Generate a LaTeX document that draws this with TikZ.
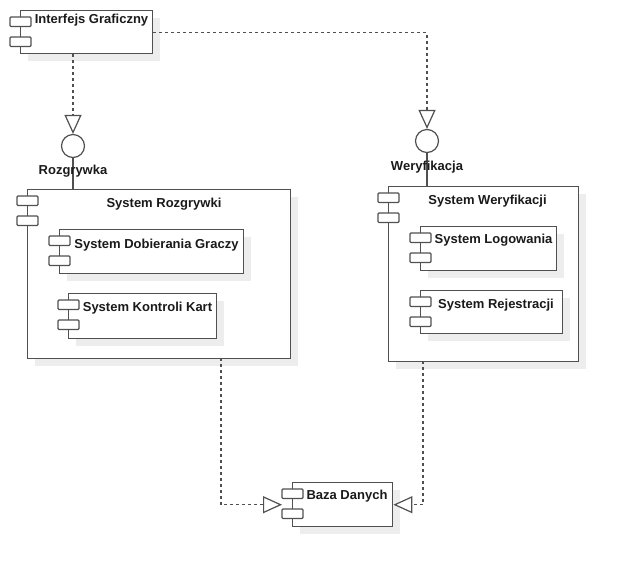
\documentclass[tikz,border=0pt]{standalone}
\usepackage{fontspec}
\setmainfont{Liberation Sans}
\usetikzlibrary{arrows.meta,shadows}

\definecolor{edge}{HTML}{505050}
\definecolor{ink}{HTML}{1A1A1A}
\definecolor{shade}{HTML}{EDEDED}

\tikzset{
  x=1pt, y=-1pt,
  box/.style={rectangle, draw=edge, line width=1.4pt, fill=white, inner sep=0pt,
    anchor=north west,
    drop shadow={shadow xshift=7pt, shadow yshift=-7pt, fill=shade, opacity=1}},
  tab/.style={draw=edge, line width=1.3pt, fill=white, rounded corners=1pt},
  title/.style={font=\bfseries\fontsize{13}{15}\selectfont, text=ink,
    inner sep=0pt, anchor=base},
  dep/.style={draw=edge, line width=1.4pt, dash pattern=on 3pt off 3pt,
    -{Triangle[open, fill=white, length=19pt, width=17pt, line width=1.2pt]}},
  iface/.style={circle, draw=edge, line width=1.2pt, fill=white,
    minimum size=23pt, inner sep=0pt},
  link/.style={draw=edge, line width=1.4pt},
}

% UML component: name, left, top, right, bottom
\newcommand\umlcomp[5]{%
  \node[box, minimum width={(#4-#2)*1pt}, minimum height={(#5-#3)*1pt}] (#1) at (#2,#3) {};
  \draw[tab] ([xshift=-10pt, yshift=-7pt]#1.north west) rectangle ++(21pt,-9.5pt);
  \draw[tab] ([xshift=-10pt, yshift=-27pt]#1.north west) rectangle ++(21pt,-9.5pt);
}

\begin{document}
\begin{tikzpicture}
\useasboundingbox (0,0) rectangle (618,566);

% components
\umlcomp{gui}{20}{10}{152}{53}
\node[title] (guiT) at (91.5,23) {Interfejs Graficzny};

\umlcomp{gra}{27}{189}{290}{358}
\node[title] (graT) at (164,207) {System Rozgrywki};
\umlcomp{dob}{59}{229}{243}{273}
\node[title] (dobT) at (156.5,248) {System Dobierania Graczy};
\umlcomp{kon}{68}{293}{216}{338}
\node[title] (konT) at (147.5,311) {System Kontroli Kart};

\umlcomp{wer}{388}{186}{578}{361}
\node[title] (werT) at (487.5,204) {System Weryfikacji};
\umlcomp{log}{420}{226}{556}{270}
\node[title] (logT) at (493.5,243) {System Logowania};
\umlcomp{rej}{420}{290}{562}{333}
\node[title] (rejT) at (496,308) {System Rejestracji};

\umlcomp{db}{292}{482}{392}{526}
\node[title] (dbT) at (347,499) {Baza Danych};

% provided interfaces
\node[iface] (ifGra) at (73,146) {};
\node[iface] (ifWer) at (427,141) {};
\draw[link] (ifGra.south) -- (ifGra.south |- gra.north);
\draw[link] (ifWer.south) -- (ifWer.south |- wer.north);
\node[title] (ifGraT) at (73,174) {Rozgrywka};
\node[title] (ifWerT) at (427,170) {Weryfikacja};

% dependencies
\draw[dep] (gui.south -| ifGra) -- (ifGra.north);
\draw[dep] (gui.east) -| (ifWer.north);
\coordinate (graOut) at (221,358);
\coordinate (werOut) at (423,361);
\draw[dep] (graOut) |- ([xshift=-10pt]db.west);
\draw[dep] (werOut) |- (db.east);
\end{tikzpicture}
\end{document}
